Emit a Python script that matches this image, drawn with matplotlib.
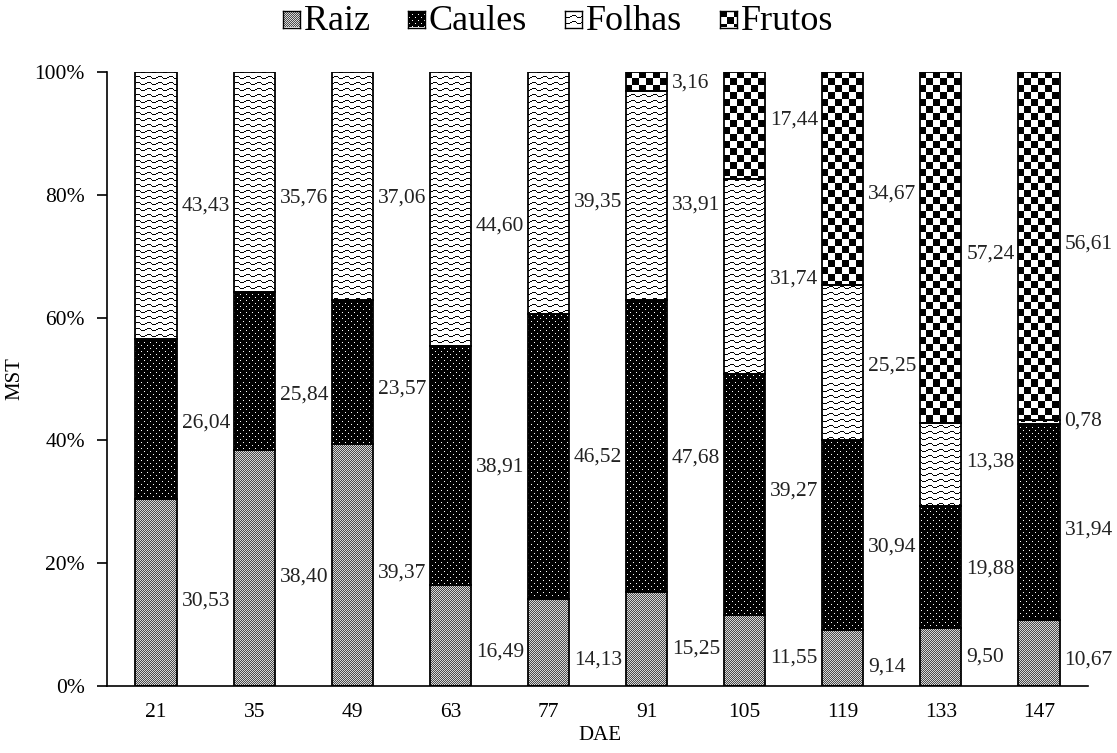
import numpy as np
import matplotlib
matplotlib.use("Agg")
import matplotlib.pyplot as plt
from matplotlib.path import Path
from matplotlib.patches import PathPatch

# ---------------- data ----------------
categories = ["21", "35", "49", "63", "77", "91", "105", "119", "133", "147"]
series_names = ["Raiz", "Caules", "Folhas", "Frutos"]
raiz = [30.53, 38.40, 39.37, 16.49, 14.13, 15.25, 11.55, 9.14, 9.50, 10.67]
caules = [26.04, 25.84, 23.57, 38.91, 46.52, 47.68, 39.27, 30.94, 19.88, 31.94]
folhas = [43.43, 35.76, 37.06, 44.60, 39.35, 33.91, 31.74, 25.25, 13.38, 0.78]
frutos = [0, 0, 0, 0, 0, 3.16, 17.44, 34.67, 57.24, 56.61]
yticks = [0, 20, 40, 60, 80, 100]
ytick_labels = ["0%", "20%", "40%", "60%", "80%", "100%"]

# label heights (layout, in % units) as placed in the original
lab_raiz = [13.8, 17.8, 18.4, 5.6, 4.2, 6.0, 4.5, 3.1, 4.7, 4.3]
lab_caules = [42.8, 47.4, 48.3, 35.7, 37.3, 37.2, 31.7, 22.7, 19.1, 25.4]
lab_folhas = [78.1, 79.4, 79.4, 74.9, 78.8, 78.3, 66.3, 52.1, 36.5, 43.2]
lab_frutos = [None, None, None, None, None, 98.2, 92.2, 80.1, 70.4, 72.0]

FONT = ["Liberation Serif", "DejaVu Serif"]
plt.rcParams["font.family"] = FONT

W_PX, H_PX, DPI = 1117, 753, 100
fig = plt.figure(figsize=(W_PX / DPI, H_PX / DPI), dpi=DPI)
AX_L, AX_B, AX_W, AX_H = 107, 67, 981, 614
ax = fig.add_axes([AX_L / W_PX, AX_B / H_PX, AX_W / W_PX, AX_H / H_PX])

# ---------------- textures ----------------
def texture(kind, h, w):
    r = np.arange(h)[:, None]
    c = np.arange(w)[None, :]
    img = np.ones((h, w, 3))
    if kind == "Raiz":
        m = ((r + c) % 2 == 0)
        g = np.where(m, 0.30, 0.85)
        img[:] = g[..., None]
    elif kind == "Caules":
        img[:] = 0.0
        m = ((r % 6 == 1) & (c % 6 == 1)) | ((r % 6 == 4) & (c % 6 == 4))
        img[m] = 1.0
    elif kind == "Folhas":
        off = np.round(1.4 * np.sin(2 * np.pi * c / 11.0)).astype(int)
        m = ((r - off) % 6 == 0)
        img[np.broadcast_to(m, (h, w))] = 0.0
    elif kind == "Frutos":
        m = ((r // 7 + c // 7) % 2 == 0)
        img[np.broadcast_to(m, (h, w))] = 0.0
    return img

x = np.arange(len(categories))
width = 0.42
ax.set_xlim(-0.5, len(categories) - 0.5)
ax.set_ylim(0, 100)

values = [raiz, caules, folhas, frutos]
labpos = [lab_raiz, lab_caules, lab_folhas, lab_frutos]
bottom = np.zeros(len(categories))
for name, vals in zip(series_names, values):
    vals = np.asarray(vals, dtype=float)
    keep = vals > 0
    bars = ax.bar(x[keep], vals[keep], width, bottom=bottom[keep], facecolor="none",
                  edgecolor="black", linewidth=1.3, zorder=3)
    verts, codes = [], []
    for b in bars:
        x0, y0, bw, bh = b.get_x(), b.get_y(), b.get_width(), b.get_height()
        verts += [(x0, y0), (x0 + bw, y0), (x0 + bw, y0 + bh), (x0, y0 + bh), (x0, y0)]
        codes += [Path.MOVETO, Path.LINETO, Path.LINETO, Path.LINETO, Path.CLOSEPOLY]
    clip = PathPatch(Path(verts, codes), transform=ax.transData, facecolor="none",
                     edgecolor="none")
    ax.add_patch(clip)
    im = ax.imshow(texture(name, AX_H, AX_W), extent=(-0.5, len(categories) - 0.5, 0, 100),
                   origin="upper", interpolation="nearest", aspect="auto", zorder=2)
    im.set_clip_path(clip)
    bottom = bottom + vals

ax.set_xlim(-0.5, len(categories) - 0.5)
ax.set_ylim(0, 100)

for vals, pos in zip(values, labpos):
    for i, (v, p) in enumerate(zip(vals, pos)):
        if p is None:
            continue
        ax.text(x[i] + width / 2 + 0.05, p, f"{v:.2f}".replace(".", ","),
                ha="left", va="center", fontsize=15.5, color="#222222", zorder=4)

ax.set_xticks(x)
ax.set_xticklabels(categories, fontsize=15.5)
ax.set_yticks(yticks)
ax.set_yticklabels(ytick_labels, fontsize=15.5)
ax.tick_params(axis="x", length=0, pad=12)
ax.tick_params(axis="y", length=7, width=1.2, direction="out", pad=9)
for s in ["top", "right"]:
    ax.spines[s].set_visible(False)
for s in ["left", "bottom"]:
    ax.spines[s].set_linewidth(1.2)

fig.text(15 / W_PX, 1 - 379 / H_PX, "MST", rotation=90, ha="center", va="center", fontsize=15)
fig.text(600 / W_PX, 1 - 736 / H_PX, "DAE", ha="center", va="center", fontsize=15)

# ---------------- legend (manual, textured swatches) ----------------
renderer = fig.canvas.get_renderer()
leg_cy = 21
leg_y = 1 - leg_cy / H_PX
sw = 17
txt_gap = 4
item_gap = 38
leg_fs = 26
widths = []
for name in series_names:
    t = fig.text(0, 0, name, fontsize=leg_fs)
    widths.append(t.get_window_extent(renderer).width)
    t.remove()
total = sum(widths) + len(series_names) * (sw + txt_gap) + (len(series_names) - 1) * item_gap
xpos = 558 - total / 2
for name, wdt in zip(series_names, widths):
    sax = fig.add_axes([xpos / W_PX, (H_PX - leg_cy - sw / 2 + 2) / H_PX, sw / W_PX, sw / H_PX])
    sax.imshow(texture(name, sw, sw), interpolation="nearest", aspect="auto")
    sax.set_xticks([]); sax.set_yticks([])
    for sp in sax.spines.values():
        sp.set_linewidth(1.0)
    fig.text((xpos + sw + txt_gap) / W_PX, leg_y, name, ha="left", va="center", fontsize=leg_fs)
    xpos += sw + txt_gap + wdt + item_gap

fig.savefig("out.png", dpi=DPI)
